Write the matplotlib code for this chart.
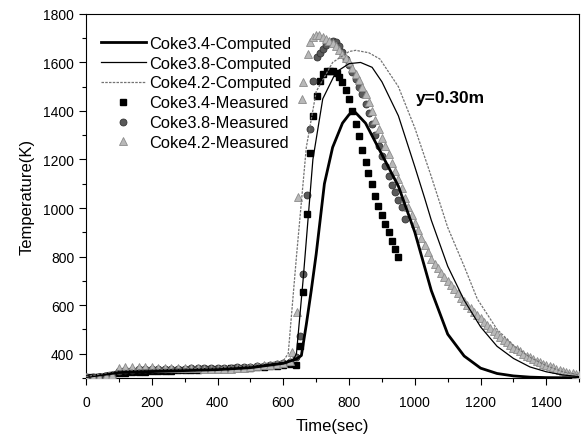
import numpy as np
import matplotlib
matplotlib.use("Agg")
import matplotlib.pyplot as plt
from matplotlib.ticker import MultipleLocator

plt.rcParams["font.family"] = ["Liberation Sans", "DejaVu Sans"]

# --- berechnete Kurven (computed) ---
t_c34 = [0, 100, 200, 300, 400, 500, 600, 640, 655, 670, 685, 700, 725, 750, 780, 800, 815,
         850, 900, 950, 1000, 1050, 1100, 1150, 1200, 1250, 1300, 1350, 1400, 1500]
T_c34 = [305, 322, 326, 330, 334, 342, 360, 378, 392, 520, 660, 810, 1100, 1250, 1350, 1385, 1400,
         1350, 1220, 1090, 900, 660, 480, 390, 340, 318, 308, 303, 301, 300]

t_c38 = [0, 100, 200, 300, 400, 500, 600, 630, 640, 660, 690, 720, 760, 800, 835, 870, 900,
         950, 1000, 1030, 1050, 1100, 1150, 1200, 1250, 1300, 1350, 1400, 1450, 1500]
T_c38 = [305, 328, 332, 336, 340, 348, 362, 372, 400, 700, 1200, 1450, 1560, 1595, 1600, 1580, 1520,
         1380, 1170, 1040, 950, 760, 620, 510, 430, 380, 345, 325, 312, 305]

t_c42 = [0, 100, 200, 300, 400, 500, 600, 615, 640, 670, 700, 750, 800, 820, 860, 894,
         950, 1000, 1050, 1100, 1150, 1190, 1250, 1300, 1350, 1400, 1450, 1500]
T_c42 = [305, 330, 335, 338, 342, 350, 370, 400, 800, 1250, 1480, 1600, 1645, 1650, 1640, 1614,
         1500, 1330, 1130, 920, 760, 625, 500, 433, 385, 350, 325, 312]

# --- Messwerte (measured) ---
t_base = [0, 20, 40, 60, 80, 100, 120, 140, 160, 180, 200, 220, 240, 260, 280, 300,
          320, 340, 360, 380, 400, 420, 440, 460, 480, 500, 520, 540, 560, 580, 600, 620]

T_m34_base = [302, 302, 303, 303, 305, 318, 322, 324, 325, 326, 327, 328, 329, 330, 331, 332,
              333, 334, 335, 336, 337, 338, 339, 340, 341, 342, 344, 346, 348, 350, 352, 356]
t_m34 = [640, 651, 659, 671, 681, 690, 702, 712, 722, 732, 742, 752, 762, 770, 780, 790, 800,
         810, 821, 830, 840, 850, 859, 869, 879, 889, 899, 910, 920, 930, 940, 950]
T_m34 = [355, 433, 653, 976, 1225, 1381, 1463, 1525, 1552, 1563, 1566, 1563, 1555, 1540, 1520,
         1488, 1450, 1400, 1347, 1298, 1240, 1190, 1145, 1099, 1051, 1010, 971, 935, 900, 866, 832, 797]

T_m38_base = [303, 303, 304, 304, 308, 328, 332, 334, 335, 335, 336, 336, 337, 337, 338, 338,
              339, 339, 340, 340, 341, 341, 342, 343, 344, 346, 348, 350, 353, 356, 360, 366]
t_m38 = [640, 651, 659, 671, 681, 690, 702, 712, 720, 730, 740, 750, 760, 770, 780, 790, 800,
         810, 820, 830, 840, 850, 860, 870, 880, 890, 900, 910, 920, 930, 940, 950, 960, 970]
T_m38 = [385, 472, 728, 1054, 1326, 1525, 1621, 1640, 1655, 1670, 1683, 1690, 1685, 1668, 1645,
         1615, 1590, 1560, 1530, 1500, 1470, 1430, 1390, 1345, 1300, 1255, 1215, 1175, 1130,
         1095, 1065, 1035, 1005, 955]

T_m42_base = [305, 305, 305, 306, 310, 340, 345, 345, 345, 344, 343, 342, 342, 341, 340, 340,
              340, 339, 338, 338, 337, 337, 338, 340, 342, 345, 348, 352, 355, 358, 362, 370]
t_m42 = [626, 641, 646, 656, 661, 674, 681, 690,
         700, 710, 720, 730, 740, 750, 760, 770, 780, 790, 800, 810, 820, 830, 840, 850,
         860, 870, 880, 890, 900, 910, 920, 930, 940, 950, 960, 970, 980, 990, 1000,
         1010, 1020, 1030, 1040, 1050, 1060, 1070, 1080, 1090, 1100, 1110, 1120, 1130, 1140,
         1150, 1160, 1170, 1180, 1190, 1200, 1210, 1220, 1230, 1240, 1250, 1260, 1270, 1280,
         1290, 1300, 1310, 1320, 1330, 1340, 1350, 1360, 1370, 1380, 1390, 1400, 1410, 1420,
         1430, 1440, 1450, 1460, 1470, 1480, 1490, 1500]
T_m42 = [406, 571, 1045, 1450, 1520, 1634, 1683, 1705,
         1715, 1712, 1705, 1698, 1690, 1680, 1667, 1652, 1636, 1618, 1600, 1578, 1553, 1527,
         1499, 1470, 1436, 1400, 1364, 1327, 1290, 1255, 1221, 1187, 1153, 1120, 1082, 1043,
         1005, 970, 940, 908, 877, 848, 818, 790, 770, 751, 734, 717, 700, 683, 665, 648, 631,
         615, 600, 586, 572, 558, 545, 532, 518, 505, 492, 480, 468, 457, 446, 436, 425, 417,
         409, 400, 392, 385, 378, 371, 364, 358, 352, 347, 343, 338, 334, 330, 326, 322, 318,
         315, 312]

x_m34 = np.concatenate([t_base, t_m34])
y_m34 = np.concatenate([T_m34_base, T_m34])
x_m38 = np.concatenate([t_base, t_m38])
y_m38 = np.concatenate([T_m38_base, T_m38])
x_m42 = np.concatenate([t_base, t_m42])
y_m42 = np.concatenate([T_m42_base, T_m42])

fig = plt.figure(figsize=(5.81, 4.39), dpi=100)
ax = fig.add_axes([0.148, 0.137, 0.849, 0.829])

# Linien zuerst (Legendenreihenfolge), Marker darunter per zorder
ax.plot(t_c34, T_c34, color="black", lw=2.0, label="Coke3.4-Computed", zorder=5)
ax.plot(t_c38, T_c38, color="black", lw=0.9, label="Coke3.8-Computed", zorder=5)
ax.plot(t_c42, T_c42, color="0.45", lw=0.9, ls=(0, (2, 1)), label="Coke4.2-Computed", zorder=5)
ax.plot(x_m34, y_m34, ls="none", marker="s", ms=5, mfc="black", mec="black",
        label="Coke3.4-Measured", zorder=3)
ax.plot(x_m38, y_m38, ls="none", marker="o", ms=5, mfc="0.35", mec="0.2", mew=0.6,
        label="Coke3.8-Measured", zorder=3)
ax.plot(x_m42, y_m42, ls="none", marker="^", ms=6, mfc="0.72", mec="0.55", mew=0.6,
        label="Coke4.2-Measured", zorder=4)

ax.set_xlim(0, 1500)
ax.set_ylim(300, 1800)
ax.xaxis.set_major_locator(MultipleLocator(200))
ax.xaxis.set_minor_locator(MultipleLocator(100))
ax.yaxis.set_major_locator(MultipleLocator(200))
ax.yaxis.set_minor_locator(MultipleLocator(100))
ax.tick_params(which="major", direction="out", length=5, width=0.8, labelsize=10)
ax.tick_params(which="minor", direction="out", length=3, width=0.8)
ax.tick_params(axis="x", which="major", pad=7)
ax.tick_params(top=False, right=False)
ax.set_yticks([400, 600, 800, 1000, 1200, 1400, 1600, 1800])

ax.set_xlabel("Time(sec)", fontsize=12, labelpad=7)
ax.set_ylabel("Temperature(K)", fontsize=12, labelpad=6)

ax.text(1004, 1457, "y=0.30m", fontsize=12.5, fontweight="bold", va="center", ha="left")

ax.legend(loc="upper left", bbox_to_anchor=(0.007, 0.972), frameon=False, fontsize=11.8,
          handlelength=2.75, handletextpad=0.2, labelspacing=0.3, borderaxespad=0.3)

fig.savefig("out.png", dpi=100)
